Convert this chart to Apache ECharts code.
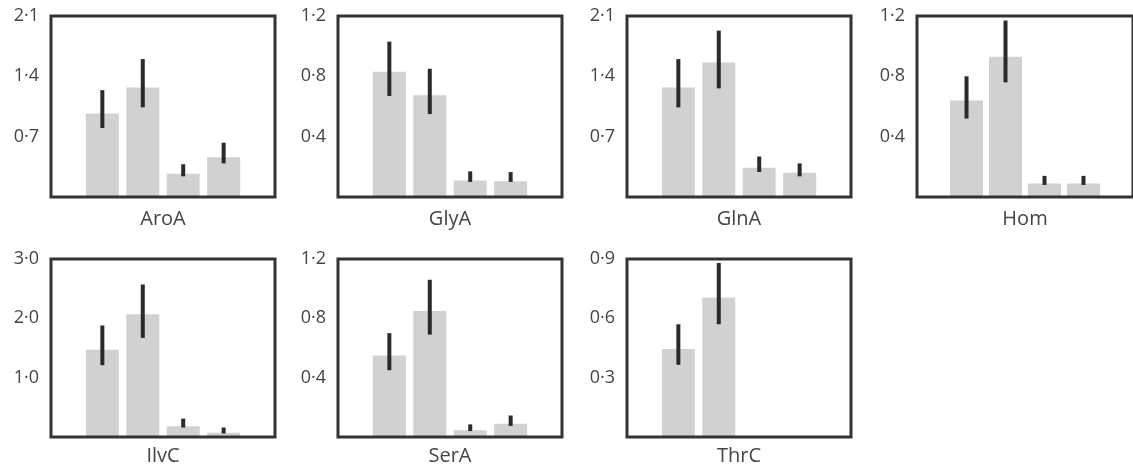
<!DOCTYPE html>
<html>
<head>
<meta charset="utf-8">
<script src="https://cdn.jsdelivr.net/npm/echarts@6/dist/echarts.min.js"></script>
<style>
  html, body { margin: 0; padding: 0; background: #fff; }
  #main { width: 1133px; height: 471px; }
</style>
</head>
<body>
<div id="main"></div>
<script>
// panel names
var genes = ['AroA', 'GlyA', 'GlnA', 'Hom', 'IlvC', 'SerA', 'ThrC'];
// y axis top and tick step for each panel
var yMax = [2.1, 1.2, 2.1, 1.2, 3.0, 1.2, 0.9];
var yStep = [0.7, 0.4, 0.7, 0.4, 1.0, 0.4, 0.3];
// bar heights (4 bars per panel, ThrC has only 2)
var means = [
  [0.97, 1.27, 0.27, 0.46],
  [0.83, 0.675, 0.11, 0.105],
  [1.27, 1.56, 0.34, 0.28],
  [0.64, 0.93, 0.09, 0.09],
  [1.47, 2.07, 0.18, 0.07],
  [0.55, 0.85, 0.045, 0.09],
  [0.445, 0.705]
];
// error bar ends
var errLow = [
  [0.80, 1.04, 0.24, 0.39],
  [0.67, 0.55, 0.10, 0.10],
  [1.04, 1.26, 0.29, 0.24],
  [0.52, 0.76, 0.08, 0.08],
  [1.21, 1.67, 0.16, 0.06],
  [0.45, 0.69, 0.04, 0.075],
  [0.365, 0.57]
];
var errHigh = [
  [1.24, 1.60, 0.38, 0.63],
  [1.03, 0.85, 0.17, 0.165],
  [1.60, 1.93, 0.47, 0.39],
  [0.80, 1.17, 0.14, 0.14],
  [1.88, 2.57, 0.31, 0.16],
  [0.70, 1.06, 0.085, 0.145],
  [0.57, 0.88]
];

var chart = echarts.init(document.getElementById('main'));

var lefts = [51, 338, 627, 917];
var font = '"Open Sans", "Noto Sans", sans-serif';
var grid = [], xAxis = [], yAxis = [], series = [];

genes.forEach(function (name, i) {
  var row = i < 4 ? 0 : 1;
  grid.push({
    left: lefts[i % 4],
    top: row === 0 ? 16 : 259,
    width: 224,
    height: row === 0 ? 181 : 178,
    show: true,
    z: 5,
    backgroundColor: 'transparent',
    borderColor: '#333',
    borderWidth: 3
  });
  xAxis.push({
    gridIndex: i,
    type: 'value',
    min: -1.27,
    max: 4.27,
    name: name,
    nameLocation: 'middle',
    nameGap: row === 0 ? 12 : 9,
    nameTextStyle: { fontFamily: font, fontSize: 20, color: '#444', verticalAlign: 'top' },
    axisLine: { show: false },
    axisTick: { show: false },
    axisLabel: { show: false },
    splitLine: { show: false }
  });
  yAxis.push({
    gridIndex: i,
    type: 'value',
    min: 0,
    max: yMax[i],
    interval: yStep[i],
    axisLine: { show: false },
    axisTick: { show: false },
    splitLine: { show: false },
    axisLabel: {
      margin: 12,
      fontFamily: font,
      fontSize: 18,
      color: '#444',
      formatter: function (v) {
        if (v === 0) return '';
        return v.toFixed(1).replace('.', '·');
      }
    }
  });

  var barData = means[i].map(function (v, k) { return [k, v]; });
  series.push({
    type: 'bar',
    xAxisIndex: i,
    yAxisIndex: i,
    barWidth: 33,
    itemStyle: { color: '#d1d1d1' },
    data: barData
  });

  var errData = errLow[i].map(function (lo, k) { return [k, lo, errHigh[i][k]]; });
  series.push({
    type: 'custom',
    xAxisIndex: i,
    yAxisIndex: i,
    z: 4,
    renderItem: function (params, api) {
      var p1 = api.coord([api.value(0), api.value(1)]);
      var p2 = api.coord([api.value(0), api.value(2)]);
      return {
        type: 'line',
        shape: { x1: p1[0], y1: p1[1], x2: p2[0], y2: p2[1] },
        style: { stroke: '#2a2a2a', lineWidth: 4, lineCap: 'butt' }
      };
    },
    data: errData
  });
});

chart.setOption({
  animation: false,
  grid: grid,
  xAxis: xAxis,
  yAxis: yAxis,
  series: series
});
</script>
</body>
</html>
